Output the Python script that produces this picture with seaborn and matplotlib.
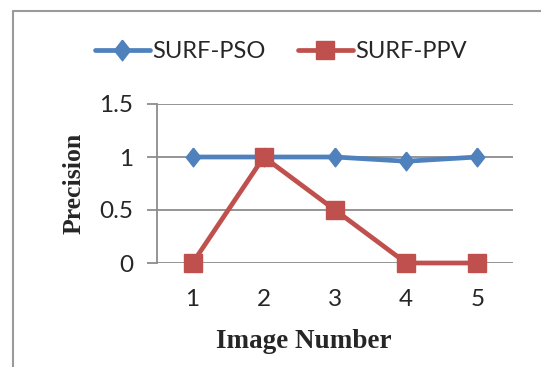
import matplotlib
matplotlib.use("Agg")
import matplotlib.pyplot as plt
import seaborn as sns
import pandas as pd
from matplotlib.lines import Line2D

# Data
image_numbers = [1, 2, 3, 4, 5]
surf_pso = [1.0, 1.0, 1.0, 0.96, 1.0]
surf_ppv = [0.0, 1.0, 0.5, 0.0, 0.0]
series_names = ["SURF-PSO", "SURF-PPV"]
y_ticks = [0, 0.5, 1, 1.5]
y_tick_labels = ["0", "0.5", "1", "1.5"]

df = pd.DataFrame({
    "Image Number": image_numbers * 2,
    "Precision": surf_pso + surf_ppv,
    "Series": [series_names[0]] * len(image_numbers) + [series_names[1]] * len(image_numbers),
})

sns.set_style("white")
plt.rcParams["font.family"] = ["Lato", "DejaVu Sans"]

fig = plt.figure(figsize=(5.41, 3.67), dpi=100)
ax = fig.add_axes([157 / 541, 1 - 263 / 367, (513 - 157) / 541, (263 - 104) / 367])

tall_diamond = [(0, 1), (0.78, 0), (0, -1), (-0.78, 0), (0, 1)]
colors = {"SURF-PSO": "#4F81BD", "SURF-PPV": "#C0504D"}
markers = {"SURF-PSO": tall_diamond, "SURF-PPV": "s"}
msizes = {"SURF-PSO": 13.5, "SURF-PPV": 13}

for name in series_names:
    sub = df[df["Series"] == name]
    sns.lineplot(data=sub, x="Image Number", y="Precision", ax=ax,
                 color=colors[name], marker=markers[name], markersize=msizes[name],
                 markeredgecolor=colors[name], markeredgewidth=1, linewidth=3.4, label=name,
                 clip_on=False, zorder=3)

ax.set_xlim(0.5, 5.5)
ax.set_ylim(0, 1.5)
ax.set_yticks(y_ticks)
ax.set_yticklabels(y_tick_labels)
ax.set_xticks(image_numbers)
ax.set_xticklabels([str(i) for i in image_numbers])

ax.grid(axis="y", color="#8C8C8C", linewidth=1.3)
ax.grid(axis="x", visible=False)
for s in ["top", "right", "bottom"]:
    ax.spines[s].set_visible(False)
ax.spines["left"].set_color("#8C8C8C")
ax.spines["left"].set_linewidth(1.3)
ax.tick_params(axis="y", length=7, width=1.3, color="#8C8C8C", labelsize=17.5, pad=10, left=True)
ax.tick_params(axis="x", length=0, labelsize=17.5, pad=19)
ax.set_axisbelow(True)

ax.set_xlabel("Image Number", fontsize=19.5, fontweight="bold", family="Liberation Serif")
ax.set_ylabel("Precision", fontsize=18.5, fontweight="bold", family="Liberation Serif")
ax.xaxis.set_label_coords((304 - 157) / 356, (263 - 342) / 159)
ax.xaxis.label.set_verticalalignment("center")
ax.yaxis.set_label_coords((74 - 157) / 356, 0.5)
ax.yaxis.label.set_verticalalignment("center")

ax.get_legend().remove()
handles = [Line2D([0], [0], color=colors[n], marker=markers[n], markersize=msizes[n] * (1.1 if n == "SURF-PSO" else 1.05),
                  markeredgewidth=1, linewidth=3.4, markeredgecolor=colors[n]) for n in series_names]
fig.legend(handles, series_names, loc="center", bbox_to_anchor=(281 / 541, 1 - 52 / 367), ncol=2,
           frameon=False, fontsize=17, handlelength=2.33, handletextpad=0.12, columnspacing=1.35)

# Outer chart frame (left and top edges visible)
fig.add_artist(Line2D([13 / 541, 13 / 541], [0, 1 - 11 / 367], color="#9A9A9A", linewidth=1.5, transform=fig.transFigure))
fig.add_artist(Line2D([13 / 541, 1], [1 - 11 / 367, 1 - 11 / 367], color="#9A9A9A", linewidth=1.5, transform=fig.transFigure))

fig.savefig("out.png", dpi=100)
